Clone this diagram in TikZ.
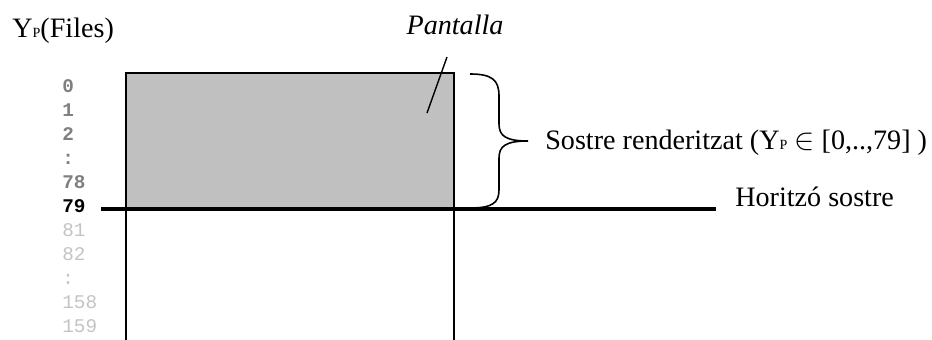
\documentclass[tikz,border=0pt]{standalone}
\usepackage{fontspec}
\setmainfont{Liberation Serif}
\newfontfamily\rowfont{Liberation Mono}
\definecolor{screengray}{HTML}{C0C0C0}
\definecolor{rowdark}{HTML}{7F7F7F}
\definecolor{rowlight}{HTML}{C4C4C4}
\tikzset{
    lbl/.style={inner sep=0pt, font=\fontsize{16}{18}\selectfont},
    row/.style={anchor=base west, inner sep=0pt, font=\rowfont\fontsize{11}{11}\selectfont},
    rowbold/.style={row, font=\rowfont\bfseries\fontsize{11}{11}\selectfont},
    edge/.style={line width=0.8pt},
    horizon/.style={line width=2pt},
    brace/.style={line width=0.9pt}
}
% small subscript P of Y_P
\newcommand{\yp}{Y{\fontsize{8}{8}\selectfont P}}
% row label: name, y of baseline, style, text
\newcommand{\rowlabel}[4]{
	\node[#3] (#1) at (62,#2) {#4};
}

\begin{document}
\begin{tikzpicture}[x=0.02cm, y=-0.02cm]
		\useasboundingbox (0,0) rectangle (932,340);

		% screen rectangle and its sides running down
		\coordinate (scrTL) at (126,73);
		\coordinate (scrTR) at (454,73);
		\coordinate (scrBL) at (126,340);
		\coordinate (scrBR) at (454,340);
		\fill[screengray] (scrTL) rectangle (454,208);
		\draw[edge] (scrBL) -- (scrTL) -- (scrTR) -- (scrBR);

		% horizon line
		\coordinate (horL) at (101,209);
		\coordinate (horR) at (716,209);
		\draw[horizon] (horL) -- (horR);

		% rows
		\rowlabel{r0}{93}{rowbold, rowdark}{0}
		\rowlabel{r1}{117}{rowbold, rowdark}{1}
		\rowlabel{r2}{141}{rowbold, rowdark}{2}
		\rowlabel{rdotsA}{165}{rowbold, rowdark}{:}
		\rowlabel{r78}{189}{rowbold, rowdark}{78}
		\rowlabel{r79}{213}{rowbold, black}{79}
		\rowlabel{r81}{237}{row, rowlight}{81}
		\rowlabel{r82}{261}{row, rowlight}{82}
		\rowlabel{rdotsB}{285}{row, rowlight}{:}
		\rowlabel{r158}{309}{row, rowlight}{158}
		\rowlabel{r159}{333}{row, rowlight}{159}

		% labels
		\node[lbl, anchor=base west] (files) at (12,38) {\yp(Files)};
		\node[lbl, anchor=base, font=\fontsize{16}{18}\selectfont\itshape] (pant) at (455,35) {Pantalla};
		\coordinate (pantFoot) at (427,113);
		\coordinate (pantHead) at (447,57);
		\draw[edge] (pantFoot) -- (pantHead);

		% brace over the rendered rows
		\coordinate (brTop) at (470,74);
		\coordinate (brTip) at (528,141);
		\coordinate (brBot) at (470,208);
		\draw[brace] (brTop) .. controls (492,74) and (499,80) .. (499,96) -- (499,124)
			.. controls (499,136) and (506,141) .. (brTip)
			.. controls (506,141) and (499,146) .. (499,158) -- (499,190)
			.. controls (499,203) and (492,208) .. (brBot);
		\node[lbl, anchor=west] (rend) at (545,143) {Sostre renderitzat (\yp\ $\in$ [0,..,79] )};
		\node[lbl, anchor=base west] (hor) at (735,207) {Horitzó sostre};
	\end{tikzpicture}
\end{document}
